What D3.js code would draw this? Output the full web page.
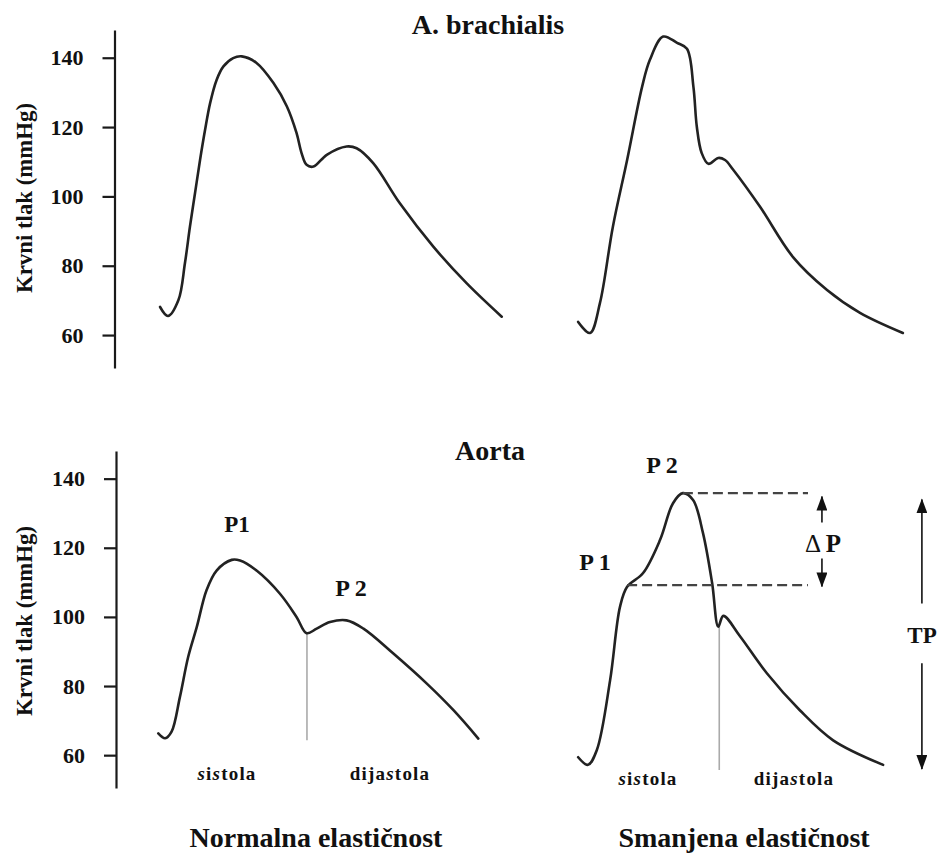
<!DOCTYPE html>
<html>
<head>
<meta charset="utf-8">
<script src="https://cdn.jsdelivr.net/npm/d3@7"></script>
<style>
    body { margin: 0; background: #fff; }
    svg { display: block; }
    text { font-family: "Liberation Serif", "DejaVu Serif", serif; font-weight: bold; fill: #111; }
</style>
</head>
<body>
<div id="chart"></div>
<script>
/*
*    pulse waves - A. brachialis / Aorta
*/

var w = 940;
var h = 856;

var yTicks = [60, 80, 100, 120, 140];
var yLabel = "Krvni tlak (mmHg)";

// [time (arbitrary 0-100), pressure mmHg]
var brachNormal = [[2.8,68.1],[5.0,65.5],[7.9,70.1],[9.7,80.7],[11.1,91.3],[12.5,100.9],
    [13.9,110.5],[15.3,119.2],[16.7,126.9],[18.5,133.6],[20.4,137.5],[23.1,139.9],
    [25.5,140.4],[29.6,138.5],[34.3,132.7],[38.0,126.0],[40.7,118.3],[42.1,112.5],
    [43.5,109.1],[45.4,108.6],[49.1,112.0],[54.6,114.4],[57.4,113.9],[62.0,109.6],
    [69.4,98.0],[78.7,85.5],[88.0,74.9],[97.7,65.3]];

var brachStiff = [[2.4,63.8],[5.9,60.6],[8.8,69.2],[12.6,91.2],[16.8,110.5],[21.2,131.6],
    [23.5,139.4],[27.4,146.1],[31.5,144.3],[34.4,142.6],[36.3,131.6],[37.3,120.1],
    [38.7,112.6],[40.7,109.4],[43.6,111.1],[45.6,110.5],[48.0,107.7],[55.9,97.0],
    [65.6,82.5],[75.6,73.0],[85.3,66.4],[97.9,60.6]];

var aortaNormal = [[2.3,66.3],[4.2,64.9],[6.0,66.8],[8.3,76.8],[10.6,88.4],[13.0,97.1],
    [15.7,107.7],[18.5,113.4],[22.7,116.5],[25.0,116.3],[29.6,113.4],[36.1,106.7],
    [40.7,100.0],[43.5,95.3],[46.3,96.6],[50.0,98.5],[54.6,99.0],[59.3,96.6],
    [67.6,89.4],[76.9,80.7],[84.3,73.0],[91.2,64.8]];

var aortaStiff = [[2.4,59.4],[5.3,57.2],[7.9,61.5],[11.8,81.7],[14.7,102.9],[16.8,108.7],
    [21.5,112.7],[26.5,122.3],[30.3,132.9],[33.2,135.8],[36.2,133.8],[39.1,124.3],
    [41.8,109.8],[43.6,97.2],[45.1,100.3],[50.0,94.4],[57.9,83.7],[67.6,73.0],
    [77.4,64.3],[92.1,57.2]];

// systole / diastole divider: [time, top pressure, bottom pressure]
var notchNormal = [43.6, 95.2, 64.3];
var notchStiff = [43.9, 97.5, 55.7];

// dashed levels P2 / P1 on the stiff aorta: [from t, to t, pressure]
var levels = [[33.2, 70, 135.8], [16.8, 70, 109.2]];

// arrows [t, from p, to p]
var deltaArrows = [[74.1, 127.3, 134.8], [74.1, 116.9, 108.8]];
var tpArrows = [[103.5, 103.9, 134.0], [103.5, 86.6, 56.0]];

var svg = d3.select("#chart")
    .append("svg")
        .attr("width", w)
        .attr("height", h);

svg.append("defs").append("marker")
    .attr("id", "head")
    .attr("viewBox", "0 0 15 11")
    .attr("refX", 14)
    .attr("refY", 5.5)
    .attr("markerUnits", "userSpaceOnUse")
    .attr("markerWidth", 15)
    .attr("markerHeight", 11)
    .attr("orient", "auto")
    .append("path")
        .attr("d", "M0,0L15,5.5L0,11Z")
        .attr("fill", "#111");

var xLeft = d3.scaleLinear().domain([0, 100]).range([150, 510]);
var xRight = d3.scaleLinear().domain([0, 100]).range([570, 910]);
var yTop = d3.scaleLinear().domain([50.5, 148]).range([368, 30]);
var yBottom = d3.scaleLinear().domain([50.5, 148]).range([788, 451]);

function drawAxis(y, xPos, labelY){
    var g = svg.append("g")
        .attr("transform", "translate(" + xPos + ",0)")
        .call(d3.axisLeft(y).tickValues(yTicks).tickSize(12).tickSizeOuter(0).tickPadding(19));
    g.select(".domain").attr("stroke", "#1a1a1a").attr("stroke-width", 2.2);
    g.selectAll(".tick line").attr("stroke", "#1a1a1a").attr("stroke-width", 2.2);
    g.selectAll(".tick text")
        .attr("font-family", "Liberation Serif, DejaVu Serif, serif")
        .attr("font-weight", "bold")
        .attr("font-size", 22)
        .attr("fill", "#111");

    svg.append("text")
        .attr("transform", "translate(32," + labelY + ") rotate(-90)")
        .attr("text-anchor", "middle")
        .attr("font-size", 23)
        .attr("textLength", 190)
        .attr("lengthAdjust", "spacingAndGlyphs")
        .text(yLabel);
}

drawAxis(yTop, 114.5, 198);
drawAxis(yBottom, 116, 621);

function drawCurve(data, x, y){
    var line = d3.line()
        .x(function(d){ return x(d[0]); })
        .y(function(d){ return y(d[1]); })
        .curve(d3.curveCatmullRom.alpha(0.5));
    svg.append("path")
        .datum(data)
        .attr("d", line)
        .attr("fill", "none")
        .attr("stroke", "#222")
        .attr("stroke-width", 2.6)
        .attr("stroke-linecap", "round")
        .attr("stroke-linejoin", "round");
}

function drawDivider(n, x, y){
    svg.append("line")
        .attr("x1", x(n[0])).attr("x2", x(n[0]))
        .attr("y1", y(n[1])).attr("y2", y(n[2]))
        .attr("stroke", "#aaa")
        .attr("stroke-width", 1.6);
}

drawDivider(notchNormal, xLeft, yBottom);
drawDivider(notchStiff, xRight, yBottom);

drawCurve(brachNormal, xLeft, yTop);
drawCurve(brachStiff, xRight, yTop);
drawCurve(aortaNormal, xLeft, yBottom);
drawCurve(aortaStiff, xRight, yBottom);

svg.selectAll(".level")
    .data(levels)
    .enter()
    .append("line")
        .attr("class", "level")
        .attr("x1", function(d){ return xRight(d[0]); })
        .attr("x2", function(d){ return xRight(d[1]); })
        .attr("y1", function(d){ return yBottom(d[2]); })
        .attr("y2", function(d){ return yBottom(d[2]); })
        .attr("stroke", "#444")
        .attr("stroke-width", 2.2)
        .attr("stroke-dasharray", "10,5");

svg.selectAll(".arrow")
    .data(deltaArrows.concat(tpArrows))
    .enter()
    .append("line")
        .attr("class", "arrow")
        .attr("x1", function(d){ return xRight(d[0]); })
        .attr("x2", function(d){ return xRight(d[0]); })
        .attr("y1", function(d){ return yBottom(d[1]); })
        .attr("y2", function(d){ return yBottom(d[2]); })
        .attr("stroke", "#111")
        .attr("stroke-width", 1.6)
        .attr("marker-end", "url(#head)");

// titles
function label(txt, x, y, size){
    return svg.append("text")
        .attr("x", x)
        .attr("y", y)
        .attr("text-anchor", "middle")
        .attr("font-size", size)
        .text(txt);
}

label("A. brachialis", 488, 34, 28);
label("Aorta", 490, 460, 28);
label("Normalna elastičnost", 316, 847, 28);
label("Smanjena elastičnost", 744, 847, 28);

label("P1", 237, 532, 23);
label("P 2", 351, 596, 24);
label("P 2", 662, 473, 24);
label("P 1", 595, 570, 24);
label("TP", 922, 643, 23);

var dp = svg.append("text")
    .attr("x", 823).attr("y", 552)
    .attr("text-anchor", "middle")
    .attr("font-size", 25);
dp.append("tspan").attr("font-weight", "normal").text("Δ ");
dp.append("tspan").text("P");

// sistola / dijastola with italic s
function phase(word, x, y){
    var t = svg.append("text")
        .attr("x", x).attr("y", y)
        .attr("text-anchor", "middle")
        .attr("font-size", 19)
        .attr("letter-spacing", 1.2);
    word.split("").forEach(function(c){
        t.append("tspan")
            .attr("font-style", c === "s" ? "italic" : "normal")
            .text(c);
    });
}

phase("sistola", 227, 780);
phase("dijastola", 390, 780);
phase("sistola", 648, 785);
phase("dijastola", 794, 785);
</script>
</body>
</html>
